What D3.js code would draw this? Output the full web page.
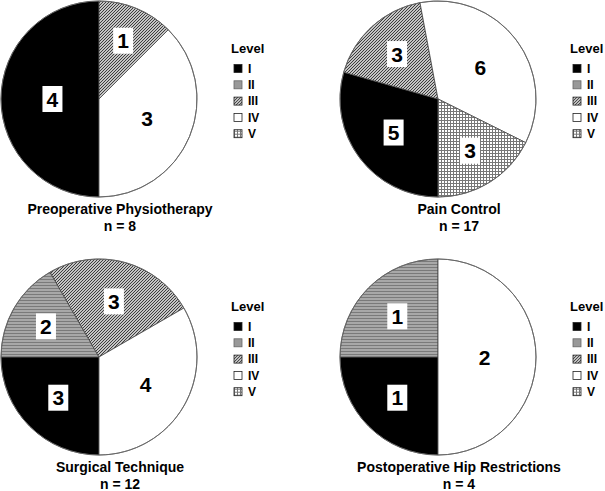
<!DOCTYPE html>
<html><head><meta charset="utf-8">
<script src="https://cdn.jsdelivr.net/npm/d3@7"></script>
<style>
html,body{margin:0;padding:0;background:#fff;}
svg{display:block;font-family:"Liberation Sans",Arial,sans-serif;}
</style></head>
<body>
<svg id="chart" width="605" height="491"></svg>
<script>
const levels = ["I","II","III","IV","V"];
const titles = ["Preoperative Physiotherapy","Pain Control","Surgical Technique","Postoperative Hip Restrictions"];
const preop    = [4,0,1,3,0];
const pain     = [5,0,3,6,3];
const surgical = [3,2,3,4,0];
const hip      = [1,1,0,2,0];
const seriesList = [preop, pain, surgical, hip];

const svg = d3.select("#chart");
const defs = svg.append("defs");

// patterns
const p2 = defs.append("pattern").attr("id","pII").attr("patternUnits","userSpaceOnUse").attr("width",4).attr("height",3);
p2.append("rect").attr("width",4).attr("height",3).attr("fill","#a8a8a8");
p2.append("rect").attr("width",4).attr("height",1).attr("fill","#7a7a7a");

const p3 = defs.append("pattern").attr("id","pIII").attr("patternUnits","userSpaceOnUse").attr("width",3).attr("height",3);
p3.append("rect").attr("width",3).attr("height",3).attr("fill","#fff");
p3.append("path").attr("d","M0,3 L3,0 M-1,1 L1,-1 M2,4 L4,2").attr("stroke","#333").attr("stroke-width",1.1);

const p5 = defs.append("pattern").attr("id","pV").attr("patternUnits","userSpaceOnUse").attr("width",3).attr("height",3);
p5.append("rect").attr("width",3).attr("height",3).attr("fill","#fff");
p5.append("rect").attr("width",3).attr("height",1).attr("fill","#777");
p5.append("rect").attr("width",1).attr("height",3).attr("fill","#777");

const fills = ["#000","url(#pII)","url(#pIII)","#fff","url(#pV)"];
const legendFills = ["#000","#999","url(#pIII)","#fff","url(#pV)"];
const color = d3.scaleOrdinal().domain(levels).range(fills);
const legendColor = d3.scaleOrdinal().domain(levels).range(legendFills);

const col = d3.scaleOrdinal().domain([0,1]).range([99,438]);
const row = d3.scaleOrdinal().domain([0,1]).range([99,357]);
const R = 98;

const pie = d3.pie().sort(null).value(d=>d.v).startAngle(Math.PI).endAngle(3*Math.PI);
const arc = d3.arc().innerRadius(0).outerRadius(R);

seriesList.forEach((vals, k) => {
  const cx = col(k%2), cy = row(Math.floor(k/2));
  const g = svg.append("g").attr("transform",`translate(${cx},${cy})`);
  const data = levels.map((l,i)=>({level:l, v:vals[i]}));
  const total = d3.sum(vals);
  const arcs = pie(data).filter(d=>d.data.v>0);
  g.selectAll("path.slice").data(arcs).join("path")
    .attr("class","slice")
    .attr("d",arc)
    .attr("fill",d=>color(d.data.level))
    .attr("stroke","#444").attr("stroke-width",0.8);
  g.append("circle").attr("r",R).attr("fill","none").attr("stroke","#666").attr("stroke-width",0.8);

  // labels
  const lab = g.selectAll("g.lab").data(arcs).join("g").attr("class","lab")
    .attr("transform",d=>{
      const frac = d.data.v/total;
      const lr = R*(0.7-0.45*frac);
      const a = (d.startAngle+d.endAngle)/2;
      return `translate(${Math.sin(a)*lr},${-Math.cos(a)*lr})`;
    });
  lab.append("rect").attr("x",-10).attr("y",-13).attr("width",20).attr("height",26).attr("fill","#fff");
  lab.append("text").attr("text-anchor","middle").attr("dy","0.36em")
    .attr("font-size",21).attr("font-weight","bold").text(d=>d.data.v);

  // titles
  svg.append("text").attr("x",cx+21).attr("y",cy+115).attr("text-anchor","middle")
    .attr("font-size",14).attr("font-weight","bold").text(titles[k]);
  svg.append("text").attr("x",cx+21).attr("y",cy+132).attr("text-anchor","middle")
    .attr("font-size",14).attr("font-weight","bold").text("n = "+total);

  // legend
  const lg = svg.append("g").attr("transform",`translate(${cx+132},${cy-46})`);
  lg.append("text").attr("x",0).attr("y",0).attr("font-size",13).attr("font-weight","bold").text("Level");
  const items = lg.selectAll("g.it").data(levels).join("g").attr("class","it")
    .attr("transform",(d,i)=>`translate(3,${15.5+i*16.3})`);
  items.append("rect").attr("x",0).attr("y",-4).attr("width",8).attr("height",8)
    .attr("fill",d=>legendColor(d)).attr("stroke",d=>d==="II"?"#666":"#222").attr("stroke-width",0.8);
  items.append("text").attr("x",14).attr("y",0).attr("dy","0.36em").attr("font-size",12).attr("font-weight","bold").text(d=>d);
});
</script>
</body></html>
